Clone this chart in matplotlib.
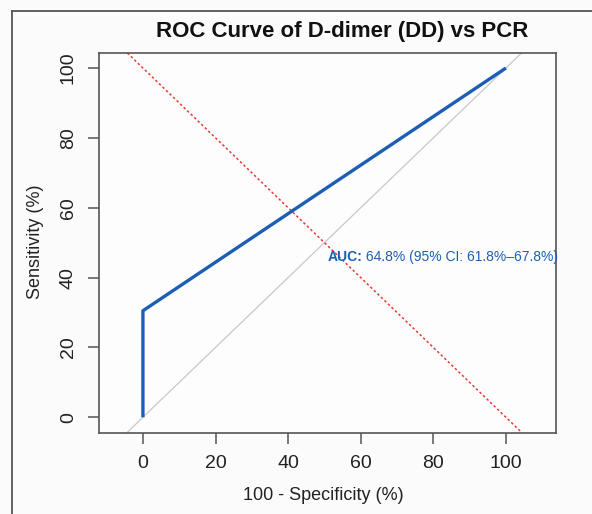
import matplotlib
matplotlib.use('Agg')
import matplotlib.pyplot as plt
from matplotlib.lines import Line2D

plt.rcParams['font.family'] = ['Liberation Sans', 'DejaVu Sans']

# ROC curve points (100 - specificity, sensitivity), in %
fpr = [0, 0, 100]
tpr = [0, 30.5, 100]

# reference lines
chance_x = [0, 100]
chance_y = [0, 100]
cut_x = [0, 100]
cut_y = [100, 0]

ticks = [0, 20, 40, 60, 80, 100]
auc_head = 'AUC:'
auc_rest = ' 64.8% (95% CI: 61.8%\u201367.8%)'

blue = '#1b5fb5'

fig = plt.figure(figsize=(5.92, 5.14), dpi=100)
fig.patch.set_facecolor('#fbfbfb')

ax = fig.add_axes([99/592, 1 - 433/514, 457/592, 380/514])
ax.set_facecolor('#fdfdfd')

# chance diagonal and the dotted red line, both extended across the box
ax.axline((chance_x[0], chance_y[0]), (chance_x[1], chance_y[1]), color='#c8c8c8', lw=0.9, zorder=1)
ax.axline((cut_x[0], cut_y[0]), (cut_x[1], cut_y[1]), color='#e53a35', lw=1.1,
          linestyle=(0, (1.6, 1.6)), zorder=1)

# ROC curve
ax.plot(fpr, tpr, color=blue, lw=2.4, solid_capstyle='butt', zorder=3)

t1 = ax.text(50.8, 46, auc_head, color=blue, fontsize=10, fontweight='bold',
             ha='left', va='center', zorder=4)
ax.annotate(auc_rest, xy=(1, 0.5), xycoords=t1, ha='left', va='center',
            color=blue, fontsize=10, zorder=4)

ax.set_xlim(-12.1, 113.8)
ax.set_ylim(-4.5, 104.3)
ax.set_xticks(ticks)
ax.set_yticks(ticks)
ax.set_xticklabels([str(t) for t in ticks])
ax.set_yticklabels([str(t) for t in ticks], rotation=90, va='center')

for s in ax.spines.values():
    s.set_color('#555555')
    s.set_linewidth(1.2)
ax.tick_params(axis='both', length=8, width=1.1, color='#555555', labelsize=14,
               labelcolor='#222222', direction='out')
ax.tick_params(axis='x', pad=8)
ax.tick_params(axis='y', pad=8)

# titles and axis labels
fig.text(342/592, 1 - 32/514, 'ROC Curve of D-dimer (DD) vs PCR', fontsize=16,
         fontweight='bold', ha='center', va='center', color='#111111')
fig.text(323/592, 1 - 495/514, '100 - Specificity (%)', fontsize=13,
         ha='center', va='center', color='#222222')
fig.text(35/592, 1 - 242/514, 'Sensitivity (%)', fontsize=13, rotation=90,
         ha='center', va='center', color='#222222')

# outer frame (left and top edges only, as in the cropped figure)
fig.add_artist(Line2D([12/592, 12/592], [0, 1 - 11/514], transform=fig.transFigure,
                      color='#555555', lw=1.3))
fig.add_artist(Line2D([12/592, 1], [1 - 11/514, 1 - 11/514], transform=fig.transFigure,
                      color='#555555', lw=1.3))

fig.savefig('out.png', dpi=100, facecolor=fig.get_facecolor())
